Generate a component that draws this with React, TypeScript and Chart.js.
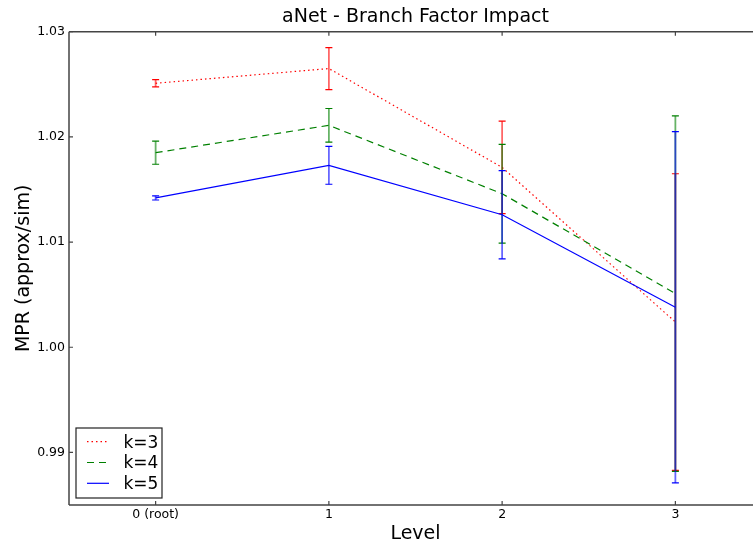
import React, { useEffect, useRef } from "react";
import { Chart, registerables } from "chart.js";

Chart.register(...registerables);

const levels = [0, 1, 2, 3];
const levelLabels = ["0 (root)", "1", "2", "3"];
const seriesNames = ["k=3", "k=4", "k=5"];
const k3Mean = [1.0251, 1.0265, 1.0171, 1.0024];
const k3Err = [0.00035, 0.002, 0.0044, 0.0141];
const k4Mean = [1.0185, 1.0211, 1.0146, 1.0051];
const k4Err = [0.0011, 0.0016, 0.0047, 0.0169];
const k5Mean = [1.0142, 1.0173, 1.0126, 1.0038];
const k5Err = [0.0002, 0.0018, 0.0042, 0.0167];
const yTicks = [0.99, 1.0, 1.01, 1.02, 1.03];
const yTickLabels = ["0.99", "1.00", "1.01", "1.02", "1.03"];
const yMin = 0.985;
const yMax = 1.03;
const xMin = -0.5;
const xMax = 3.5;

const FONT = "'DejaVu Sans', 'Liberation Sans', sans-serif";
const colors = ["#ff0000", "#008000", "#0000ff"];
const dashes = [[1.5, 3], [7, 5], []];
const means = [k3Mean, k4Mean, k5Mean];
const errs = [k3Err, k4Err, k5Err];

const errorBarPlugin = {
  id: "errorBars",
  afterDatasetDraw(chart: any, args: any) {
    const ds = chart.data.datasets[args.index];
    if (!ds || !ds.errorBars) return;
    const ctx = chart.ctx;
    const xs = chart.scales.x;
    const ys = chart.scales.y;
    ctx.save();
    ds.data.forEach((p: any, i: number) => {
      const e = ds.errorBars[i];
      const px = xs.getPixelForValue(p.x);
      const top = ys.getPixelForValue(p.y + e);
      const bot = ys.getPixelForValue(p.y - e);
      ctx.globalAlpha = 0.6;
      ctx.strokeStyle = ds.borderColor;
      ctx.lineWidth = 1.8;
      ctx.setLineDash([]);
      ctx.beginPath();
      ctx.moveTo(px, top);
      ctx.lineTo(px, bot);
      ctx.stroke();
      ctx.globalAlpha = 1;
      ctx.lineWidth = 1.2;
      ctx.beginPath();
      ctx.moveTo(px - 3.5, top);
      ctx.lineTo(px + 3.5, top);
      ctx.moveTo(px - 3.5, bot);
      ctx.lineTo(px + 3.5, bot);
      ctx.stroke();
    });
    ctx.restore();
  },
};

const framePlugin = {
  id: "frameAndLegend",
  afterDraw(chart: any) {
    const ctx = chart.ctx;
    const ca = chart.chartArea;
    const xs = chart.scales.x;
    const ys = chart.scales.y;
    ctx.save();
    ctx.strokeStyle = "#444";
    ctx.lineWidth = 1.5;
    ctx.setLineDash([]);
    ctx.beginPath();
    ctx.moveTo(ca.left, ca.top);
    ctx.lineTo(ca.left, ca.bottom);
    ctx.moveTo(ca.left, ca.top);
    ctx.lineTo(ca.right, ca.top);
    ctx.moveTo(ca.left, ca.bottom);
    ctx.lineTo(ca.right, ca.bottom);
    ctx.moveTo(ca.right, ca.top);
    ctx.lineTo(ca.right, ca.bottom);
    ctx.stroke();
    ctx.lineWidth = 1.2;
    ctx.beginPath();
    levels.forEach((v) => {
      const px = xs.getPixelForValue(v);
      ctx.moveTo(px, ca.bottom);
      ctx.lineTo(px, ca.bottom - 4);
      ctx.moveTo(px, ca.top);
      ctx.lineTo(px, ca.top + 4);
    });
    yTicks.forEach((v) => {
      const py = ys.getPixelForValue(v);
      ctx.moveTo(ca.left, py);
      ctx.lineTo(ca.left + 4, py);
      ctx.moveTo(ca.right, py);
      ctx.lineTo(ca.right - 4, py);
    });
    ctx.stroke();

    // legend
    const bx = ca.left + 7;
    const by = ca.bottom - 77;
    const bw = 86;
    const bh = 70;
    ctx.fillStyle = "#ffffff";
    ctx.fillRect(bx, by, bw, bh);
    ctx.strokeStyle = "#222";
    ctx.lineWidth = 1.2;
    ctx.strokeRect(bx, by, bw, bh);
    ctx.font = "17px " + FONT;
    ctx.textBaseline = "alphabetic";
    ctx.textAlign = "left";
    seriesNames.forEach((name, i) => {
      const ly = by + 13.7 + i * 20.8;
      ctx.strokeStyle = colors[i];
      ctx.lineWidth = 1.2;
      ctx.setLineDash(dashes[i]);
      ctx.beginPath();
      ctx.moveTo(bx + 11, ly);
      ctx.lineTo(bx + 33, ly);
      ctx.stroke();
      ctx.setLineDash([]);
      ctx.fillStyle = "#000";
      ctx.fillText(name, bx + 47.5, ly + 5.8);
    });
    ctx.restore();
  },
};

export default function App() {
  const ref = useRef<HTMLCanvasElement | null>(null);
  useEffect(() => {
    document.body.style.margin = "0";
    const canvas = ref.current;
    if (!canvas) return;
    const datasets = seriesNames.map((name, i) => ({
      label: name,
      data: levels.map((x, j) => ({ x, y: means[i][j] })),
      errorBars: errs[i],
      borderColor: colors[i],
      backgroundColor: colors[i],
      borderWidth: 1.2,
      borderDash: dashes[i],
      pointRadius: 0,
      tension: 0,
      fill: false,
      order: 3 - i,
    }));
    const chart = new Chart(canvas, {
      type: "line",
      data: { datasets } as any,
      options: {
        animation: false,
        responsive: false,
        devicePixelRatio: 1,
        layout: { padding: 0 },
        plugins: {
          legend: { display: false },
          tooltip: { enabled: false },
          title: {
            display: true,
            text: "aNet - Branch Factor Impact",
            fullSize: false,
            color: "#000",
            font: { family: FONT, size: 19, weight: "normal" },
            padding: { top: 5.8, bottom: 3.15 },
          },
        },
        scales: {
          x: {
            type: "linear",
            min: xMin,
            max: xMax,
            grid: { display: false, drawTicks: false },
            border: { display: false },
            afterBuildTicks: (scale: any) => {
              scale.ticks = levels.map((v) => ({ value: v }));
            },
            afterFit: (scale: any) => {
              scale.height = 41;
            },
            ticks: {
              autoSkip: false,
              maxRotation: 0,
              padding: 2.4,
              color: "#000",
              font: { family: FONT, size: 12.5 },
              callback: (_v: any, i: number) => levelLabels[i],
            },
            title: {
              display: true,
              text: "Level",
              color: "#000",
              font: { family: FONT, size: 19 },
              padding: { top: 0, bottom: 0.5 },
            },
          },
          y: {
            type: "linear",
            min: yMin,
            max: yMax,
            grid: { display: false, drawTicks: false },
            border: { display: false },
            afterBuildTicks: (scale: any) => {
              scale.ticks = yTicks.map((v) => ({ value: v }));
            },
            afterFit: (scale: any) => {
              scale.width = 69;
            },
            ticks: {
              autoSkip: false,
              padding: 4,
              color: "#000",
              font: { family: FONT, size: 12.5 },
              callback: (_v: any, i: number) => yTickLabels[i],
            },
            title: {
              display: true,
              text: "MPR (approx/sim)",
              color: "#000",
              font: { family: FONT, size: 19 },
              padding: { top: 12.7, bottom: 0 },
            },
          },
        },
      } as any,
      plugins: [errorBarPlugin, framePlugin],
    });
    return () => chart.destroy();
  }, []);
  return (
    <div style={{ width: 753, height: 546, overflow: "hidden" }}>
      <canvas
        ref={ref}
        width={762}
        height={546}
        style={{ display: "block", width: 762, height: 546 }}
      />
    </div>
  );
}
